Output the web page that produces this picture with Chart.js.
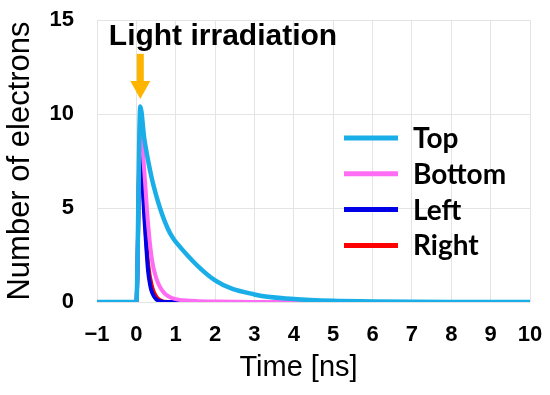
<!DOCTYPE html>
<html>
<head>
<meta charset="utf-8">
<script src="https://cdn.jsdelivr.net/npm/chart.js@4"></script>
<style>
  html, body { margin: 0; padding: 0; background: #fff; }
  #wrap { width: 550px; height: 395px; }
</style>
</head>
<body>
<div id="wrap"><canvas id="electron-chart"></canvas></div>
<script>
const seriesLabels = ["Top", "Bottom", "Left", "Right"];
const seriesColors = ["#1aaee8", "#ff6cf4", "#0000e6", "#ff0000"];

const topTime = [-1, 0, 0.1, 0.2, 0.3, 0.4, 0.5, 0.6, 0.7, 0.8, 0.9, 1, 2, 3, 4, 5, 6, 7, 8, 9, 10];
const topValues = [0, 0, 10.4, 8.7, 7.5, 6.5, 5.7, 5.0, 4.4, 3.9, 3.5, 3.2, 1.15, 0.4, 0.16, 0.06, 0.03, 0.01, 0, 0, 0];

const bottomTime = [-1, 0, 0.1, 0.2, 0.3, 0.4, 0.5, 0.6, 0.7, 0.8, 1, 1.5, 2, 3, 4, 5, 6, 7, 8, 9, 10];
const bottomValues = [0, 0, 9.6, 7.0, 4.1, 2.2, 1.3, 0.8, 0.5, 0.32, 0.15, 0.05, 0.02, 0, 0, 0, 0, 0, 0, 0, 0];

const leftTime = [-1, 0, 0.1, 0.15, 0.2, 0.25, 0.3, 0.35, 0.4, 0.5, 0.6, 0.8, 1, 2, 3, 4, 5, 6, 7, 8, 9, 10];
const leftValues = [0, 0, 9.0, 6.6, 4.6, 3.0, 1.6, 0.9, 0.5, 0.15, 0.05, 0, 0, 0, 0, 0, 0, 0, 0, 0, 0, 0];

const rightTime = [-1, 0, 0.1, 0.2, 0.3, 0.4, 0.5, 0.6, 0.8, 1, 2, 3, 4, 5, 6, 7, 8, 9, 10];
const rightValues = [0, 0, 9.2, 5.0, 2.0, 0.8, 0.3, 0.1, 0, 0, 0, 0, 0, 0, 0, 0, 0, 0, 0];

const xTicks = [-1, 0, 1, 2, 3, 4, 5, 6, 7, 8, 9, 10];
const yTicks = [0, 5, 10, 15];

// annotation anchors in data units
const arrowTime = 0.1;
const arrowFrom = 13.2;
const arrowTo = 10.8;
const noteTime = -0.7;
const noteValue = 14.1;

function toPoints(times, values) {
  return times.map((t, i) => ({ x: t, y: values[i] }));
}

const seriesData = [
  toPoints(topTime, topValues),
  toPoints(bottomTime, bottomValues),
  toPoints(leftTime, leftValues),
  toPoints(rightTime, rightValues),
];

const overlayPlugin = {
  id: "overlay",
  afterDraw(chart) {
    const { ctx, chartArea, scales } = chart;
    const x = scales.x;
    const y = scales.y;
    ctx.save();

    // light irradiation note + arrow
    ctx.fillStyle = "#000";
    ctx.font = "bold 30px 'Liberation Sans', Arial, sans-serif";
    ctx.textAlign = "left";
    ctx.textBaseline = "middle";
    ctx.fillText("Light irradiation", x.getPixelForValue(noteTime), y.getPixelForValue(noteValue));

    const ax = x.getPixelForValue(arrowTime);
    const ay0 = y.getPixelForValue(arrowFrom);
    const ay1 = y.getPixelForValue(arrowTo);
    ctx.fillStyle = "#ffb400";
    ctx.fillRect(ax - 3.5, ay0, 7, ay1 - ay0 - 17);
    ctx.beginPath();
    ctx.moveTo(ax - 10, ay1 - 18);
    ctx.lineTo(ax + 10, ay1 - 18);
    ctx.lineTo(ax, ay1);
    ctx.closePath();
    ctx.fill();

    // legend inside plot
    const lx = 344;
    const ly = 138;
    const rowGap = 35.8;
    ctx.font = "bold 28px Lato, 'Liberation Sans', sans-serif";
    chart.data.datasets.forEach((ds, i) => {
      const rowY = ly + i * rowGap;
      ctx.strokeStyle = ds.borderColor;
      ctx.lineWidth = 5;
      ctx.beginPath();
      ctx.moveTo(lx, rowY);
      ctx.lineTo(lx + 54, rowY);
      ctx.stroke();
      ctx.fillStyle = "#000";
      ctx.fillText(ds.label, lx + 69, rowY + 1);
    });

    // x axis title
    ctx.font = "29px 'Liberation Sans', Arial, sans-serif";
    ctx.textAlign = "center";
    ctx.fillText("Time [ns]", (chartArea.left + chartArea.right) / 2 - 15, 368);
    ctx.restore();
  },
};

const ctx = document.getElementById("electron-chart").getContext("2d");
new Chart(ctx, {
  type: "line",
  data: {
    datasets: seriesLabels.map((label, i) => ({
      label,
      data: seriesData[i],
      borderColor: seriesColors[i],
      backgroundColor: seriesColors[i],
      borderWidth: i === 0 ? 4.5 : 4,
      pointRadius: 0,
      cubicInterpolationMode: "monotone",
      fill: false,
    })),
  },
  options: {
    responsive: true,
    maintainAspectRatio: false,
    animation: false,
    layout: { padding: { top: 20, right: 20, left: 0, bottom: 0 } },
    plugins: {
      legend: { display: false },
      tooltip: { enabled: false },
    },
    scales: {
      x: {
        type: "linear",
        min: -1,
        max: 10,
        afterBuildTicks: (scale) => { scale.ticks = xTicks.map((v) => ({ value: v })); },
        afterFit: (scale) => {
          scale.height = 93;
          scale.paddingLeft = 0;
          scale.paddingRight = 0;
        },
        grid: { color: "#e4e4e4", drawTicks: false },
        border: { display: false },
        ticks: {
          padding: 20,
          color: "#000",
          font: { family: "'Liberation Sans', Arial, sans-serif", size: 22, weight: "bold" },
          callback: (v) => (v < 0 ? "\u2212" + Math.abs(v) : String(v)),
          maxRotation: 0,
        },
      },
      y: {
        min: 0,
        max: 15,
        afterBuildTicks: (scale) => { scale.ticks = yTicks.map((v) => ({ value: v })); },
        afterFit: (scale) => {
          scale.width = 97;
          scale.paddingTop = 0;
          scale.paddingBottom = 0;
        },
        grid: { color: "#e4e4e4", drawTicks: false },
        border: { display: false },
        ticks: {
          padding: 23,
          color: "#000",
          font: { family: "'Liberation Sans', Arial, sans-serif", size: 22, weight: "bold" },
        },
        title: {
          display: true,
          text: "Number of electrons",
          color: "#000",
          padding: { top: 2, bottom: 0 },
          font: { family: "'Liberation Sans', Arial, sans-serif", size: 31 },
        },
      },
    },
  },
  plugins: [overlayPlugin],
});
</script>
</body>
</html>
